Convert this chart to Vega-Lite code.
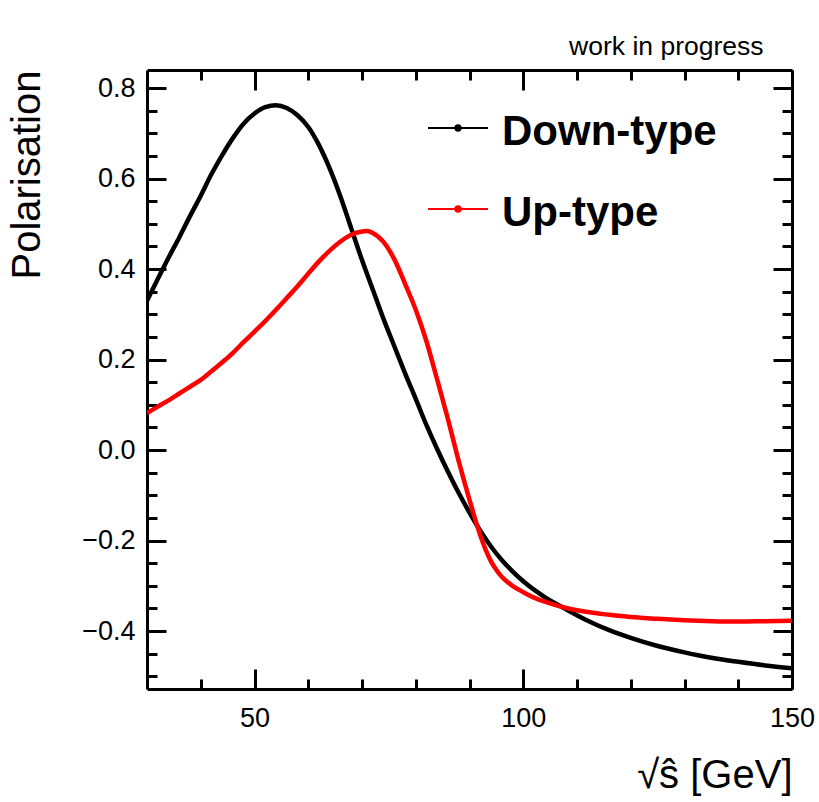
{
  "$schema": "https://vega.github.io/schema/vega-lite/v6.json",
  "autosize": {"type": "none"},
  "padding": {"left": 147, "top": 70, "right": 27, "bottom": 113},
  "width": 645,
  "height": 619,
  "background": "white",
  "config": {"view": {"stroke": null}, "font": "Liberation Sans"},
  "title": {"text": "work in progress", "anchor": "end", "fontSize": 26.5, "fontWeight": "normal", "font": "Liberation Sans", "color": "black", "dx": -51, "offset": -13, "baseline": "alphabetic"},
  "datasets": {
    "curves": [
      {"x": 30, "y": 0.330, "type": "Down-type"},
      {"x": 32, "y": 0.378, "type": "Down-type"},
      {"x": 34, "y": 0.425, "type": "Down-type"},
      {"x": 36, "y": 0.470, "type": "Down-type"},
      {"x": 38, "y": 0.517, "type": "Down-type"},
      {"x": 40, "y": 0.562, "type": "Down-type"},
      {"x": 42, "y": 0.610, "type": "Down-type"},
      {"x": 44, "y": 0.652, "type": "Down-type"},
      {"x": 46, "y": 0.690, "type": "Down-type"},
      {"x": 48, "y": 0.722, "type": "Down-type"},
      {"x": 50, "y": 0.744, "type": "Down-type"},
      {"x": 52, "y": 0.758, "type": "Down-type"},
      {"x": 54, "y": 0.762, "type": "Down-type"},
      {"x": 56, "y": 0.756, "type": "Down-type"},
      {"x": 58, "y": 0.740, "type": "Down-type"},
      {"x": 60, "y": 0.714, "type": "Down-type"},
      {"x": 62, "y": 0.674, "type": "Down-type"},
      {"x": 64, "y": 0.622, "type": "Down-type"},
      {"x": 66, "y": 0.560, "type": "Down-type"},
      {"x": 68, "y": 0.490, "type": "Down-type"},
      {"x": 70, "y": 0.420, "type": "Down-type"},
      {"x": 72, "y": 0.355, "type": "Down-type"},
      {"x": 74, "y": 0.290, "type": "Down-type"},
      {"x": 76, "y": 0.230, "type": "Down-type"},
      {"x": 78, "y": 0.170, "type": "Down-type"},
      {"x": 80, "y": 0.113, "type": "Down-type"},
      {"x": 82, "y": 0.055, "type": "Down-type"},
      {"x": 84, "y": 0.002, "type": "Down-type"},
      {"x": 86, "y": -0.048, "type": "Down-type"},
      {"x": 88, "y": -0.095, "type": "Down-type"},
      {"x": 90, "y": -0.138, "type": "Down-type"},
      {"x": 92, "y": -0.178, "type": "Down-type"},
      {"x": 94, "y": -0.213, "type": "Down-type"},
      {"x": 96, "y": -0.243, "type": "Down-type"},
      {"x": 98, "y": -0.268, "type": "Down-type"},
      {"x": 100, "y": -0.290, "type": "Down-type"},
      {"x": 104, "y": -0.325, "type": "Down-type"},
      {"x": 108, "y": -0.352, "type": "Down-type"},
      {"x": 112, "y": -0.377, "type": "Down-type"},
      {"x": 116, "y": -0.398, "type": "Down-type"},
      {"x": 120, "y": -0.415, "type": "Down-type"},
      {"x": 125, "y": -0.433, "type": "Down-type"},
      {"x": 130, "y": -0.447, "type": "Down-type"},
      {"x": 135, "y": -0.459, "type": "Down-type"},
      {"x": 140, "y": -0.468, "type": "Down-type"},
      {"x": 145, "y": -0.476, "type": "Down-type"},
      {"x": 150, "y": -0.482, "type": "Down-type"},
      {"x": 30, "y": 0.082, "type": "Up-type"},
      {"x": 32, "y": 0.096, "type": "Up-type"},
      {"x": 34, "y": 0.110, "type": "Up-type"},
      {"x": 36, "y": 0.125, "type": "Up-type"},
      {"x": 38, "y": 0.140, "type": "Up-type"},
      {"x": 40, "y": 0.155, "type": "Up-type"},
      {"x": 42, "y": 0.174, "type": "Up-type"},
      {"x": 44, "y": 0.194, "type": "Up-type"},
      {"x": 46, "y": 0.215, "type": "Up-type"},
      {"x": 48, "y": 0.239, "type": "Up-type"},
      {"x": 50, "y": 0.262, "type": "Up-type"},
      {"x": 52, "y": 0.285, "type": "Up-type"},
      {"x": 54, "y": 0.310, "type": "Up-type"},
      {"x": 56, "y": 0.336, "type": "Up-type"},
      {"x": 58, "y": 0.362, "type": "Up-type"},
      {"x": 60, "y": 0.390, "type": "Up-type"},
      {"x": 62, "y": 0.417, "type": "Up-type"},
      {"x": 64, "y": 0.441, "type": "Up-type"},
      {"x": 66, "y": 0.461, "type": "Up-type"},
      {"x": 68, "y": 0.476, "type": "Up-type"},
      {"x": 70, "y": 0.483, "type": "Up-type"},
      {"x": 71, "y": 0.484, "type": "Up-type"},
      {"x": 72, "y": 0.480, "type": "Up-type"},
      {"x": 74, "y": 0.460, "type": "Up-type"},
      {"x": 76, "y": 0.422, "type": "Up-type"},
      {"x": 78, "y": 0.368, "type": "Up-type"},
      {"x": 80, "y": 0.310, "type": "Up-type"},
      {"x": 82, "y": 0.240, "type": "Up-type"},
      {"x": 84, "y": 0.155, "type": "Up-type"},
      {"x": 86, "y": 0.068, "type": "Up-type"},
      {"x": 88, "y": -0.025, "type": "Up-type"},
      {"x": 90, "y": -0.110, "type": "Up-type"},
      {"x": 92, "y": -0.188, "type": "Up-type"},
      {"x": 93, "y": -0.220, "type": "Up-type"},
      {"x": 94, "y": -0.246, "type": "Up-type"},
      {"x": 95, "y": -0.265, "type": "Up-type"},
      {"x": 96, "y": -0.280, "type": "Up-type"},
      {"x": 97, "y": -0.291, "type": "Up-type"},
      {"x": 98, "y": -0.300, "type": "Up-type"},
      {"x": 100, "y": -0.314, "type": "Up-type"},
      {"x": 102, "y": -0.326, "type": "Up-type"},
      {"x": 104, "y": -0.335, "type": "Up-type"},
      {"x": 108, "y": -0.349, "type": "Up-type"},
      {"x": 112, "y": -0.358, "type": "Up-type"},
      {"x": 116, "y": -0.364, "type": "Up-type"},
      {"x": 120, "y": -0.369, "type": "Up-type"},
      {"x": 125, "y": -0.373, "type": "Up-type"},
      {"x": 130, "y": -0.376, "type": "Up-type"},
      {"x": 135, "y": -0.378, "type": "Up-type"},
      {"x": 140, "y": -0.379, "type": "Up-type"},
      {"x": 145, "y": -0.378, "type": "Up-type"},
      {"x": 150, "y": -0.377, "type": "Up-type"}
    ]
  },
  "data": {"name": "curves"},
  "resolve": {"axis": {"x": "independent", "y": "independent"}},
  "layer": [
    {
      "mark": {"type": "line", "strokeWidth": 4.5, "clip": true, "interpolate": "monotone"},
      "encoding": {
        "x": {"field": "x", "type": "quantitative", "scale": {"domain": [30, 150], "nice": false, "zero": false},
          "axis": {"orient": "bottom", "values": [50, 100, 150], "tickSize": -20, "tickWidth": 3, "tickColor": "black", "domain": true, "domainWidth": 3, "domainColor": "black", "grid": false, "labelPadding": 36, "labelFontSize": 27, "labelFont": "Liberation Sans", "labelColor": "black", "labelFlush": false,
            "title": "√ŝ [GeV]", "titleFont": "Liberation Sans", "titleFontSize": 40, "titleFontWeight": "normal", "titleColor": "black", "titleAnchor": "end", "titlePadding": 24}},
        "y": {"field": "y", "type": "quantitative", "scale": {"domain": [-0.528, 0.84], "nice": false, "zero": false},
          "axis": {"orient": "left", "values": [-0.4, -0.2, 0, 0.2, 0.4, 0.6, 0.8], "format": ".1f", "tickSize": -19, "tickWidth": 3, "tickColor": "black", "domain": true, "domainWidth": 3, "domainColor": "black", "grid": false, "labelPadding": 31, "labelFontSize": 27, "labelFont": "Liberation Sans", "labelColor": "black",
            "title": "Polarisation", "titleFont": "Liberation Sans", "titleFontSize": 40, "titleFontWeight": "normal", "titleColor": "black", "titleAnchor": "end", "titlePadding": 34}},
        "color": {"field": "type", "type": "nominal", "scale": {"domain": ["Down-type", "Up-type"], "range": ["black", "red"]},
          "legend": {"orient": "none", "legendX": 280, "legendY": 27, "title": null, "padding": 0, "symbolType": "M-1,0H1M-0.09,0A0.09,0.09,0,1,0,0.09,0A0.09,0.09,0,1,0,-0.09,0Z", "symbolSize": 3600, "symbolStrokeWidth": 2, "labelFont": "Liberation Sans", "labelFontWeight": "bold", "labelFontSize": 42, "labelColor": "black", "labelOffset": 13, "labelLimit": 500, "rowPadding": 25, "labelBaseline": "middle",
            "encode": {"symbols": {"update": {"fill": {"scale": "color", "field": "value"}, "stroke": {"scale": "color", "field": "value"}}}, "labels": {"update": {"dy": {"value": 4}}}}}}
      }
    },
    {
      "mark": {"type": "line", "strokeOpacity": 0},
      "encoding": {
        "x": {"field": "x", "type": "quantitative", "scale": {"domain": [30, 150], "nice": false, "zero": false},
          "axis": {"orient": "bottom", "values": [40, 60, 70, 80, 90, 110, 120, 130, 140], "tickSize": -10, "tickWidth": 3, "tickColor": "black", "domain": false, "labels": false, "grid": false, "title": null}},
        "y": {"field": "y", "type": "quantitative", "scale": {"domain": [-0.528, 0.84], "nice": false, "zero": false},
          "axis": {"orient": "left", "values": [-0.5, -0.45, -0.35, -0.3, -0.25, -0.15, -0.1, -0.05, 0.05, 0.1, 0.15, 0.25, 0.3, 0.35, 0.45, 0.5, 0.55, 0.65, 0.7, 0.75], "tickSize": -10, "tickWidth": 3, "tickColor": "black", "domain": false, "labels": false, "grid": false, "title": null}}
      }
    },
    {
      "mark": {"type": "line", "strokeOpacity": 0},
      "encoding": {
        "x": {"field": "x", "type": "quantitative", "scale": {"domain": [30, 150], "nice": false, "zero": false},
          "axis": {"orient": "top", "values": [50, 100, 150], "tickSize": -20, "tickWidth": 3, "tickColor": "black", "domain": true, "domainWidth": 3, "domainColor": "black", "labels": false, "grid": false, "title": null}},
        "y": {"field": "y", "type": "quantitative", "scale": {"domain": [-0.528, 0.84], "nice": false, "zero": false},
          "axis": {"orient": "right", "values": [-0.4, -0.2, 0, 0.2, 0.4, 0.6, 0.8], "tickSize": -19, "tickWidth": 3, "tickColor": "black", "domain": true, "domainWidth": 3, "domainColor": "black", "labels": false, "grid": false, "title": null}}
      }
    },
    {
      "mark": {"type": "line", "strokeOpacity": 0},
      "encoding": {
        "x": {"field": "x", "type": "quantitative", "scale": {"domain": [30, 150], "nice": false, "zero": false},
          "axis": {"orient": "top", "values": [40, 60, 70, 80, 90, 110, 120, 130, 140], "tickSize": -10, "tickWidth": 3, "tickColor": "black", "domain": false, "labels": false, "grid": false, "title": null}},
        "y": {"field": "y", "type": "quantitative", "scale": {"domain": [-0.528, 0.84], "nice": false, "zero": false},
          "axis": {"orient": "right", "values": [-0.5, -0.45, -0.35, -0.3, -0.25, -0.15, -0.1, -0.05, 0.05, 0.1, 0.15, 0.25, 0.3, 0.35, 0.45, 0.5, 0.55, 0.65, 0.7, 0.75], "tickSize": -10, "tickWidth": 3, "tickColor": "black", "domain": false, "labels": false, "grid": false, "title": null}}
      }
    }
  ]
}
